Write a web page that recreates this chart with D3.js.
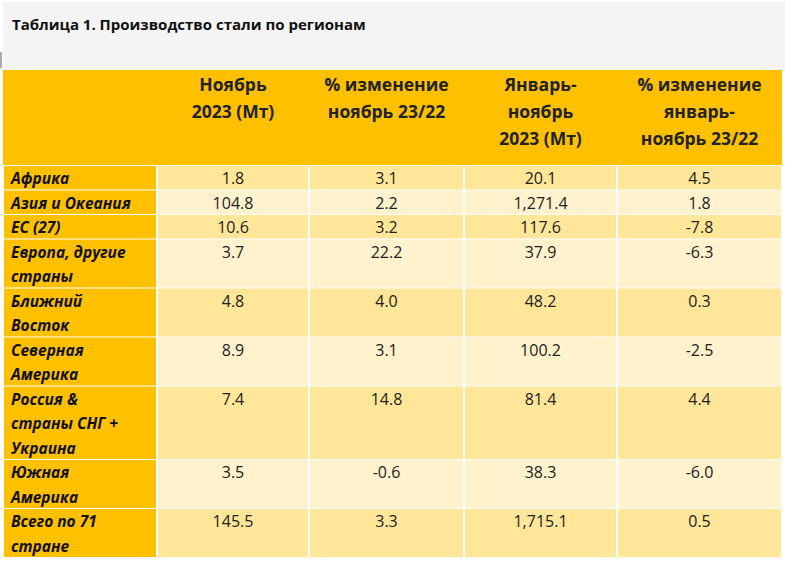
<!DOCTYPE html>
<html><head><meta charset="utf-8">
<script src="https://cdn.jsdelivr.net/npm/d3@7"></script>
<style>body{margin:0;background:#fff}text{font-family:"Open Sans",sans-serif}</style>
</head><body><svg id="t"></svg>
<script>
const title = "Таблица 1. Производство стали по регионам";
const headers = [[], ["Ноябрь", "2023 (Мт)"], ["% изменение", "ноябрь 23/22"], ["Январь-", "ноябрь", "2023 (Мт)"], ["% изменение", "январь-", "ноябрь 23/22"]];
const regions = [["Африка"], ["Азия и Океания"], ["ЕС (27)"], ["Европа, другие", "страны"], ["Ближний", "Восток"], ["Северная", "Америка"], ["Россия &", "страны СНГ +", "Украина"], ["Южная", "Америка"], ["Всего по 71", "стране"]];
const novMt = ["1.8", "104.8", "10.6", "3.7", "4.8", "8.9", "7.4", "3.5", "145.5"];
const novPct = ["3.1", "2.2", "3.2", "22.2", "4.0", "3.1", "14.8", "-0.6", "3.3"];
const ytdMt = ["20.1", "1,271.4", "117.6", "37.9", "48.2", "100.2", "81.4", "38.3", "1,715.1"];
const ytdPct = ["4.5", "1.8", "-7.8", "-6.3", "0.3", "-2.5", "4.4", "-6.0", "0.5"];

const W = 785, H = 570;
const svg = d3.select("#t").attr("width", W).attr("height", H);

// title band
svg.append("rect").attr("x", 3).attr("y", 2).attr("width", W - 3).attr("height", 68).attr("fill", "#f4f4f4");
svg.append("rect").attr("x", 0).attr("y", 52).attr("width", 2).attr("height", 16).attr("fill", "#aaa");
svg.append("text").attr("x", 12).attr("y", 30).attr("font-size", 15).attr("font-weight", 700).attr("fill", "#111").text(title);

const colEdges = [3, 157, 309, 464, 617, 782];
const tableTop = 70, headH = 95, lineH = 24.5;
const rowH = regions.map(r => r.length * lineH);
const rowY = d3.cumsum([tableTop + headH, ...rowH]);
const cols = [null, novMt, novPct, ytdMt, ytdPct];
const gold = "#ffc000", dark = "#ffe699", light = "#fff2cc";

// header
svg.append("rect").attr("x", 3).attr("y", tableTop).attr("width", colEdges[5] - 3).attr("height", headH).attr("fill", gold);
headers.forEach((h, c) => {
  const cx = (colEdges[c] + colEdges[c + 1]) / 2;
  h.forEach((s, i) => svg.append("text").attr("x", cx).attr("y", tableTop + 21 + i * 27)
    .attr("text-anchor", "middle").attr("font-size", 17.5).attr("font-weight", 700).attr("fill", "#222").text(s));
});

// body
regions.forEach((r, i) => {
  const y = rowY[i], h = rowH[i];
  for (let c = 0; c < 5; c++) {
    svg.append("rect").attr("x", colEdges[c] + 1).attr("y", y + 1)
      .attr("width", colEdges[c + 1] - colEdges[c] - 2).attr("height", h - 1)
      .attr("fill", c === 0 ? gold : (i % 2 === 0 ? dark : light));
  }
  r.forEach((s, k) => svg.append("text").attr("x", 11).attr("y", y + 19 + k * lineH)
    .attr("font-size", 15.5).attr("font-weight", 700).attr("font-style", "italic").attr("fill", "#111").text(s));
  for (let c = 1; c < 5; c++) {
    svg.append("text").attr("x", (colEdges[c] + colEdges[c + 1]) / 2).attr("y", y + 19)
      .attr("text-anchor", "middle").attr("font-size", 16).attr("fill", "#222").text(cols[c][i]);
  }
});
</script></body></html>
